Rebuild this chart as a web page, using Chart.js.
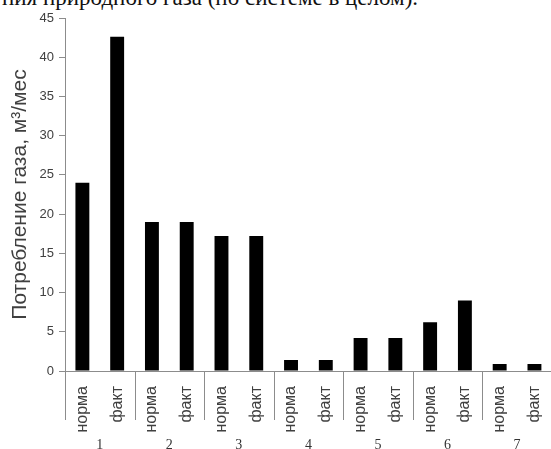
<!DOCTYPE html>
<html>
<head>
<meta charset="utf-8">
<script src="https://cdn.jsdelivr.net/npm/chart.js@4.4.0/dist/chart.umd.min.js"></script>
<style>
  html, body { margin: 0; padding: 0; background: #fff; overflow: hidden; }
  #wrap { position: relative; width: 551px; height: 449px; overflow: hidden; }
  #cap { position: absolute; left: 2px; top: -15px; font-family: "Liberation Serif", serif; font-size: 23px; color: #111; white-space: nowrap; }
  #box { position: absolute; left: 0; top: 0; width: 569px; height: 449px; }
</style>
</head>
<body>
<div id="wrap">
  <div id="cap">ния природного газа (по системе в целом).</div>
  <div id="box"><canvas id="gasChart"></canvas></div>
</div>
<script>
// подписи столбцов и групп
const barLabels = ['норма', 'факт', 'норма', 'факт', 'норма', 'факт', 'норма', 'факт',
                   'норма', 'факт', 'норма', 'факт', 'норма', 'факт'];
const groupLabels = ['1', '2', '3', '4', '5', '6', '7'];
// потребление газа, м3/мес (норма / факт по каждой группе)
const gasValues = [24, 42.6, 19, 19, 17.2, 17.2, 1.4, 1.4, 4.2, 4.2, 6.2, 9, 0.9, 0.9];
const yTicks = [0, 5, 10, 15, 20, 25, 30, 35, 40, 45];

// вертикальные разделители групп под осью X
const groupLines = {
    id: 'groupLines',
    afterDraw(chart) {
        const x = chart.scales.x;
        const ctx = chart.ctx;
        const w = x.width / barLabels.length;
        ctx.save();
        ctx.strokeStyle = '#8c8c8c';
        ctx.lineWidth = 1;
        for (let k = 0; k <= groupLabels.length; k++) {
            const px = Math.round(x.left + k * 2 * w) + 0.5;
            ctx.beginPath();
            ctx.moveTo(px, x.top);
            ctx.lineTo(px, x.top + 49);
            ctx.stroke();
        }
        ctx.restore();
    }
};

const ctx = document.getElementById('gasChart').getContext('2d');
new Chart(ctx, {
    type: 'bar',
    data: {
        labels: barLabels,
        datasets: [{
            label: 'Потребление газа',
            data: gasValues,
            backgroundColor: '#000',
            borderWidth: 0,
            categoryPercentage: 1,
            barPercentage: 0.4,
            xAxisID: 'x'
        }]
    },
    options: {
        responsive: true,
        maintainAspectRatio: false,
        animation: false,
        layout: { padding: { top: 18, right: 10, left: 0, bottom: 0 } },
        plugins: {
            legend: { display: false },
            tooltip: { enabled: false }
        },
        scales: {
            y: {
                min: 0,
                max: 45,
                afterBuildTicks: s => { s.ticks = yTicks.map(v => ({ value: v })); },
                afterFit: s => { s.width = 65; },
                grid: { drawOnChartArea: false, drawTicks: true, tickLength: 6, color: '#8c8c8c' },
                border: { color: '#8c8c8c' },
                ticks: { color: '#404040', font: { family: 'Liberation Sans', size: 13 }, padding: 5 },
                title: {
                    display: true,
                    text: 'Потребление газа, м³/мес',
                    color: '#404040',
                    font: { family: 'Liberation Sans', size: 21 },
                    padding: { top: 8, bottom: 0 }
                }
            },
            x: {
                position: 'bottom',
                afterFit: s => { s.height = 62; },
                grid: { display: false, drawTicks: false },
                border: { color: '#8c8c8c' },
                ticks: {
                    autoSkip: false,
                    minRotation: 90,
                    maxRotation: 90,
                    color: '#404040',
                    padding: 15,
                    font: { family: 'Liberation Sans', size: 16 }
                }
            },
            x2: {
                type: 'category',
                position: 'bottom',
                labels: groupLabels,
                offset: true,
                afterFit: s => { s.height = 16; },
                grid: { display: false, drawTicks: false },
                border: { display: false },
                ticks: { color: '#333', padding: 4, font: { family: 'Liberation Serif', size: 14 } }
            }
        }
    },
    plugins: [groupLines]
});
</script>
</body>
</html>
